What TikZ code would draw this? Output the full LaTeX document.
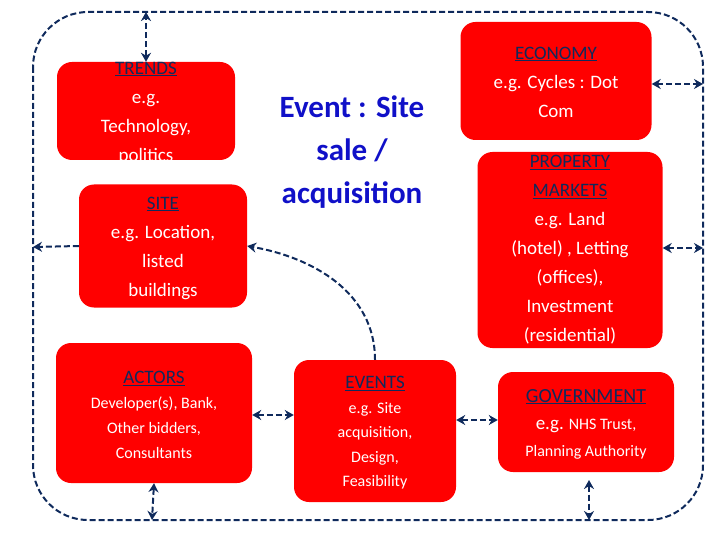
\documentclass[tikz,border=0pt]{standalone}
\usepackage{fontspec}
\setmainfont{Carlito}
\usetikzlibrary{arrows.meta}
\definecolor{navy}{HTML}{0F2A5C}
\definecolor{evblue}{HTML}{1010C8}
\tikzset{
  box/.style={fill=red,rounded corners=15pt,inner sep=0pt},
  txt/.style={text=white,align=center,font=\fontsize{19}{29}\selectfont},
  link/.style={navy,line width=2pt,dash pattern=on 6pt off 3pt},
  both/.style={link,{Stealth[length=9pt,width=10pt]}-{Stealth[length=9pt,width=10pt]}},
}
\newcommand{\hd}[1]{\textcolor{navy}{\underline{#1}}}
\begin{document}
\begin{tikzpicture}[x=1pt,y=-1pt]
\useasboundingbox (0,0) rectangle (720,540);
% the frame
\draw[link,rounded corners=55pt] (33,12) rectangle (703,520);
% the boxes
\node[box,minimum width=178pt,minimum height=98pt] (trends) at (146,111) {};
\node[box,minimum width=168pt,minimum height=123pt] (site) at (163,246) {};
\node[box,minimum width=191pt,minimum height=118pt] (economy) at (556,81) {};
\node[box,minimum width=185pt,minimum height=196pt] (property) at (570,250) {};
\node[box,minimum width=196pt,minimum height=140pt] (actors) at (154,413) {};
\node[box,minimum width=162pt,minimum height=142pt] (events) at (375,431) {};
\node[box,minimum width=176pt,minimum height=100pt] (government) at (586,422) {};
% the texts
\node[txt] (trendstxt) at (146,113) {\hd{TRENDS}\\e.g.\\Technology,\\politics};
\node[txt] (sitetxt) at (163,248) {\hd{SITE}\\e.g. Location,\\listed\\buildings};
\node[txt] (economytxt) at (556,82) {\hd{ECONOMY}\\e.g. Cycles : Dot\\Com};
\node[txt] (propertytxt) at (570,250) {\hd{PROPERTY}\\\hd{MARKETS}\\e.g. Land\\(hotel) , Letting\\(offices),\\Investment\\(residential)};
\node[txt,font=\fontsize{16}{25}\selectfont] (actorstxt) at (154,415)
  {\hd{\fontsize{19}{25}\selectfont ACTORS}\\Developer(s), Bank,\\Other bidders,\\Consultants};
\node[txt,font=\fontsize{16}{24.5}\selectfont] (eventstxt) at (375,433)
  {\hd{\fontsize{19}{24}\selectfont EVENTS}\\e.g. Site\\acquisition,\\Design,\\Feasibility};
\node[txt,font=\fontsize{16}{27}\selectfont] (governmenttxt) at (586,424)
  {\hd{\fontsize{20}{27}\selectfont GOVERNMENT}\\{\fontsize{19}{27}\selectfont e.g.} NHS Trust,\\Planning Authority};
\node[text=evblue,align=center,font=\bfseries\fontsize{31}{43}\selectfont] (event) at (352,152)
  {Event : Site\\sale /\\acquisition};
% frame points
\coordinate (ftop) at (146,12);
\coordinate (fleft) at (33,247);
\coordinate (fbotl) at (152,520);
\coordinate (fbotr) at (589,520);
\coordinate (frone) at (703,84);
\coordinate (frtwo) at (703,248);
\coordinate (govbot) at (589,480);
% the links
\draw[both] (trends.north) -- (ftop);
\draw[link,-{Stealth[length=9pt,width=10pt]}] (site.west) -- (fleft);
\draw[link,-{Stealth[length=9pt,width=10pt]}] (events.north) to[out=90,in=-10] (site.east);
\draw[both] (actors.east|-0,415) -- (events.west|-0,415);
\draw[both] (events.east|-0,420) -- (government.west|-0,420);
\draw[both] (actors.south) -- (fbotl);
\draw[both] (govbot) -- (fbotr);
\draw[both] (economy.east|-frone) -- (frone);
\draw[both] (property.east|-frtwo) -- (frtwo);
\end{tikzpicture}
\end{document}
